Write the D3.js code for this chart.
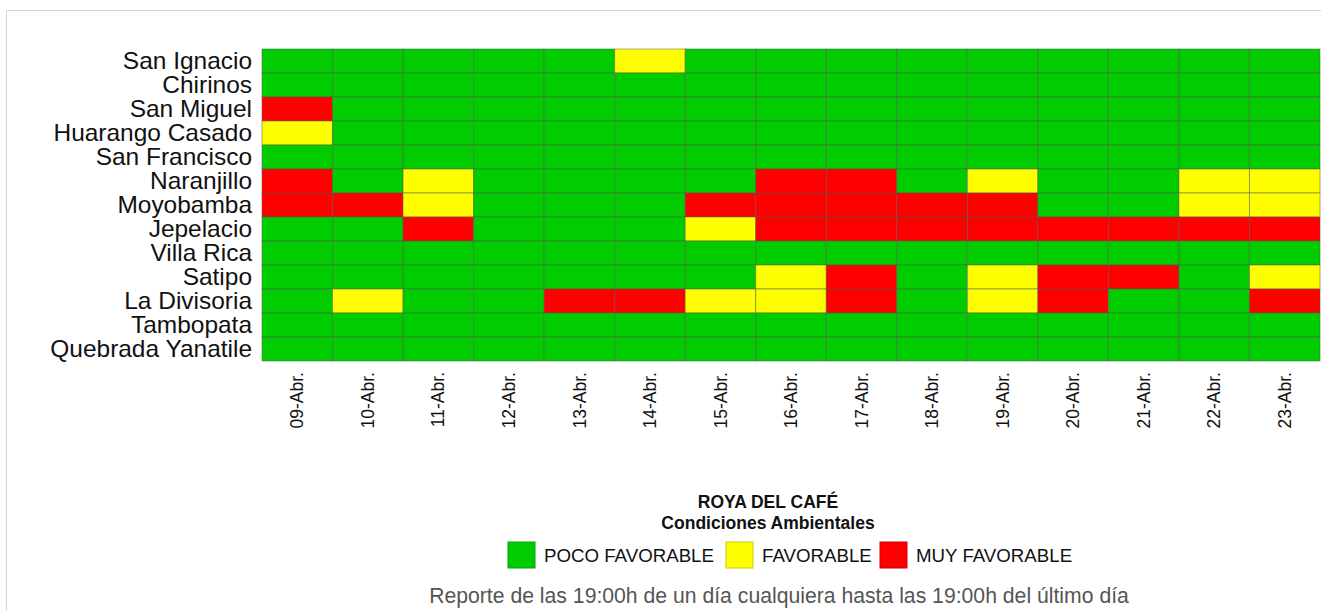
<!DOCTYPE html>
<html>
<head>
<meta charset="utf-8">
<script src="https://cdn.jsdelivr.net/npm/d3@7/dist/d3.min.js"></script>
<style>
  html, body { margin: 0; padding: 0; background: #fff; }
  svg { display: block; font-family: "Liberation Sans", Arial, sans-serif; }
</style>
</head>
<body>
<svg id="chart" width="1321" height="611"></svg>
<script>
const dates = ["09-Abr.","10-Abr.","11-Abr.","12-Abr.","13-Abr.","14-Abr.","15-Abr.","16-Abr.","17-Abr.","18-Abr.","19-Abr.","20-Abr.","21-Abr.","22-Abr.","23-Abr."];
const stations = ["San Ignacio","Chirinos","San Miguel","Huarango Casado","San Francisco","Naranjillo","Moyobamba","Jepelacio","Villa Rica","Satipo","La Divisoria","Tambopata","Quebrada Yanatile"];
// 0 = POCO FAVORABLE, 1 = FAVORABLE, 2 = MUY FAVORABLE
const levels = [
  [0,0,0,0,0,1,0,0,0,0,0,0,0,0,0], // San Ignacio
  [0,0,0,0,0,0,0,0,0,0,0,0,0,0,0], // Chirinos
  [2,0,0,0,0,0,0,0,0,0,0,0,0,0,0], // San Miguel
  [1,0,0,0,0,0,0,0,0,0,0,0,0,0,0], // Huarango Casado
  [0,0,0,0,0,0,0,0,0,0,0,0,0,0,0], // San Francisco
  [2,0,1,0,0,0,0,2,2,0,1,0,0,1,1], // Naranjillo
  [2,2,1,0,0,0,2,2,2,2,2,0,0,1,1], // Moyobamba
  [0,0,2,0,0,0,1,2,2,2,2,2,2,2,2], // Jepelacio
  [0,0,0,0,0,0,0,0,0,0,0,0,0,0,0], // Villa Rica
  [0,0,0,0,0,0,0,1,2,0,1,2,2,0,1], // Satipo
  [0,1,0,0,2,2,1,1,2,0,1,2,0,0,2], // La Divisoria
  [0,0,0,0,0,0,0,0,0,0,0,0,0,0,0], // Tambopata
  [0,0,0,0,0,0,0,0,0,0,0,0,0,0,0]  // Quebrada Yanatile
];
const levelNames = ["POCO FAVORABLE","FAVORABLE","MUY FAVORABLE"];
const levelColors = ["#00cc00","#ffff00","#ff0000"];
const titleLines = ["ROYA DEL CAFÉ","Condiciones Ambientales"];
const footer = "Reporte de las 19:00h de un día cualquiera hasta las 19:00h del último día";

const svg = d3.select("#chart");

// frame
svg.append("path")
  .attr("d", "M6.5,611 L6.5,10.5 L1321,10.5")
  .attr("fill", "none").attr("stroke", "#d4d4d4").attr("stroke-width", 1);

const x = d3.scaleBand().domain(dates).range([262, 1320]).padding(0);
const y = d3.scaleBand().domain(stations).range([49, 361]).padding(0);
const color = d3.scaleOrdinal().domain([0,1,2]).range(levelColors);

const cells = [];
stations.forEach((s, i) => dates.forEach((d, j) => cells.push({s, d, v: levels[i][j]})));

svg.append("g").selectAll("rect").data(cells).join("rect")
  .attr("x", d => x(d.d))
  .attr("y", d => y(d.s))
  .attr("width", x.bandwidth())
  .attr("height", y.bandwidth())
  .attr("fill", d => color(d.v))
  .attr("stroke", "rgba(80,90,80,0.5)")
  .attr("stroke-width", 1);

// y axis
const gy = svg.append("g").attr("transform", "translate(252,0)")
  .call(d3.axisLeft(y).tickSize(0).tickPadding(0));
gy.select(".domain").remove();
gy.selectAll("text").attr("font-size", 23.2).attr("fill", "#111")
  .attr("font-family", "Liberation Sans, Arial, sans-serif").attr("dy", "0.35em")
  .attr("x", 0).attr("transform", "scale(1.055,1)");

// x axis
const gx = svg.append("g").attr("transform", "translate(0,372)")
  .call(d3.axisBottom(x).tickSize(0).tickPadding(0));
gx.select(".domain").remove();
gx.selectAll("text")
  .attr("font-size", 17.5).attr("fill", "#111")
  .attr("font-family", "Liberation Sans, Arial, sans-serif")
  .attr("text-anchor", "end")
  .attr("transform", "rotate(-90)")
  .attr("x", 0).attr("y", 0).attr("dy", "0.35em");

// title
svg.append("g").selectAll("text").data(titleLines).join("text")
  .attr("x", 768).attr("y", (d, i) => 508 + i * 21)
  .attr("text-anchor", "middle")
  .attr("font-weight", "bold").attr("font-size", 17.5).attr("fill", "#111")
  .text(d => d);

// legend
const legendX = [508, 726, 880];
const lg = svg.append("g").selectAll("g").data(levelNames).join("g")
  .attr("transform", (d, i) => `translate(${legendX[i]},542)`);
lg.append("rect").attr("width", 27).attr("height", 26)
  .attr("fill", (d, i) => levelColors[i])
  .attr("stroke", (d, i) => d3.color(levelColors[i]).darker(0.6))
  .attr("stroke-width", 1);
lg.append("text").attr("x", 36).attr("y", 13).attr("dy", "0.35em")
  .attr("font-size", 18.7).attr("fill", "#111").text(d => d);

// footer
svg.append("text").attr("x", 779).attr("y", 603)
  .attr("text-anchor", "middle").attr("font-size", 21.2).attr("fill", "#555")
  .text(footer);
</script>
</body>
</html>
